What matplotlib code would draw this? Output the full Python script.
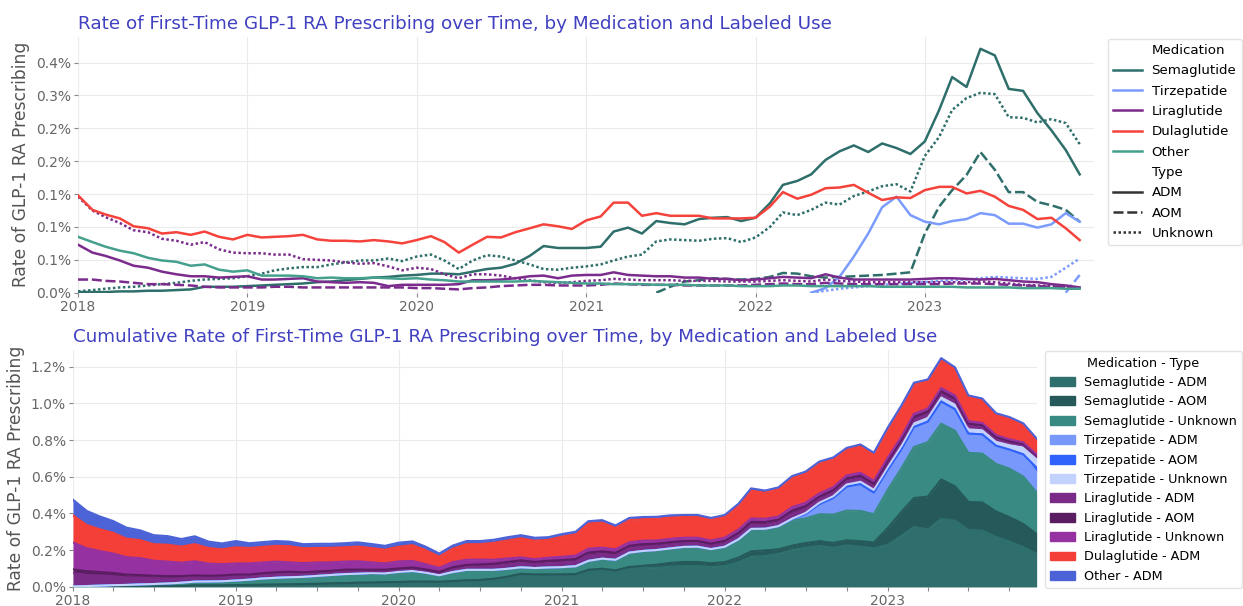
import numpy as np
import pandas as pd
import matplotlib
matplotlib.use("Agg")
import matplotlib.pyplot as plt
import matplotlib.dates as mdates
from matplotlib.lines import Line2D
from matplotlib.patches import Patch

nan = np.nan

# monthly, Jan 2018 - Dec 2023, values in percent
months = pd.date_range("2018-01-01", periods=72, freq="MS")

sema_adm = [0.001, 0.001, 0.001, 0.002, 0.002, 0.003, 0.003, 0.004, 0.005, 0.009, 0.009, 0.009,
            0.010, 0.011, 0.012, 0.013, 0.014, 0.016, 0.017, 0.019, 0.021, 0.023, 0.024, 0.026,
            0.027, 0.029, 0.029, 0.028, 0.032, 0.036, 0.038, 0.044, 0.056, 0.071, 0.068, 0.068,
            0.068, 0.070, 0.093, 0.099, 0.090, 0.109, 0.106, 0.104, 0.112, 0.114, 0.115, 0.109,
            0.114, 0.136, 0.164, 0.170, 0.180, 0.202, 0.215, 0.224, 0.214, 0.227, 0.220, 0.211,
            0.230, 0.278, 0.328, 0.313, 0.371, 0.361, 0.310, 0.307, 0.273, 0.247, 0.217, 0.180]
sema_aom = [nan] * 41 + [
            0.000, 0.009, 0.017, 0.019, 0.022, 0.021, 0.020,
            0.021, 0.024, 0.030, 0.029, 0.025, 0.023, 0.024, 0.025, 0.026, 0.027, 0.029, 0.031,
            0.090, 0.131, 0.156, 0.179, 0.214, 0.187, 0.153, 0.153, 0.138, 0.133, 0.126, 0.108]
sema_unk = [0.002, 0.004, 0.006, 0.008, 0.009, 0.011, 0.013, 0.015, 0.018, 0.020, 0.021, 0.022,
            0.025, 0.029, 0.034, 0.037, 0.039, 0.039, 0.043, 0.046, 0.049, 0.049, 0.052, 0.048,
            0.055, 0.058, 0.049, 0.036, 0.049, 0.057, 0.055, 0.049, 0.043, 0.036, 0.035, 0.038,
            0.040, 0.043, 0.049, 0.055, 0.058, 0.078, 0.081, 0.080, 0.079, 0.082, 0.083, 0.077,
            0.084, 0.100, 0.122, 0.118, 0.126, 0.137, 0.134, 0.147, 0.154, 0.162, 0.165, 0.154,
            0.208, 0.237, 0.278, 0.296, 0.304, 0.302, 0.267, 0.266, 0.259, 0.264, 0.258, 0.226]
tirz_adm = [nan] * 52 + [
            0.000, 0.007, 0.024, 0.055, 0.090, 0.130, 0.146, 0.118,
            0.108, 0.104, 0.109, 0.112, 0.121, 0.118, 0.105, 0.105, 0.099, 0.104, 0.121, 0.108]
tirz_aom = [nan] * 70 + [0.000, 0.027]
tirz_unk = [nan] * 52 + [
            0.000, 0.003, 0.006, 0.008, 0.010, 0.012, 0.013, 0.015,
            0.016, 0.018, 0.019, 0.020, 0.022, 0.024, 0.023, 0.022, 0.021, 0.024, 0.038, 0.052]
lira_adm = [0.073, 0.061, 0.056, 0.049, 0.041, 0.038, 0.032, 0.028, 0.025, 0.025, 0.023, 0.024,
            0.025, 0.020, 0.020, 0.021, 0.022, 0.017, 0.016, 0.015, 0.016, 0.015, 0.010, 0.012,
            0.012, 0.012, 0.012, 0.013, 0.019, 0.019, 0.020, 0.022, 0.025, 0.026, 0.022, 0.026,
            0.027, 0.027, 0.031, 0.027, 0.026, 0.025, 0.025, 0.023, 0.023, 0.021, 0.021, 0.019,
            0.020, 0.022, 0.024, 0.023, 0.022, 0.028, 0.023, 0.020, 0.020, 0.020, 0.020, 0.020,
            0.021, 0.022, 0.022, 0.021, 0.020, 0.021, 0.019, 0.017, 0.016, 0.013, 0.011, 0.008]
lira_aom = [0.020, 0.020, 0.018, 0.017, 0.015, 0.013, 0.013, 0.012, 0.011, 0.009, 0.008, 0.008,
            0.008, 0.008, 0.009, 0.009, 0.008, 0.008, 0.008, 0.008, 0.008, 0.008, 0.008, 0.008,
            0.007, 0.007, 0.006, 0.005, 0.007, 0.008, 0.010, 0.011, 0.012, 0.012, 0.011, 0.011,
            0.011, 0.012, 0.014, 0.013, 0.012, 0.012, 0.012, 0.011, 0.011, 0.011, 0.011, 0.011,
            0.012, 0.013, 0.014, 0.013, 0.013, 0.015, 0.014, 0.013, 0.013, 0.013, 0.013, 0.013,
            0.013, 0.013, 0.014, 0.014, 0.014, 0.013, 0.012, 0.011, 0.010, 0.009, 0.008, 0.006]
lira_unk = [0.146, 0.125, 0.115, 0.106, 0.095, 0.092, 0.082, 0.079, 0.073, 0.077, 0.066, 0.061,
            0.060, 0.060, 0.058, 0.058, 0.051, 0.050, 0.049, 0.046, 0.044, 0.045, 0.040, 0.034,
            0.038, 0.036, 0.028, 0.022, 0.028, 0.028, 0.026, 0.022, 0.019, 0.016, 0.015, 0.016,
            0.018, 0.019, 0.021, 0.020, 0.019, 0.019, 0.019, 0.018, 0.018, 0.018, 0.017, 0.017,
            0.017, 0.018, 0.019, 0.018, 0.017, 0.020, 0.018, 0.017, 0.016, 0.016, 0.016, 0.016,
            0.016, 0.016, 0.016, 0.016, 0.017, 0.016, 0.014, 0.012, 0.011, 0.010, 0.008, 0.007]
dula_adm = [0.148, 0.126, 0.119, 0.113, 0.101, 0.098, 0.090, 0.092, 0.088, 0.093, 0.085, 0.081,
            0.088, 0.084, 0.085, 0.086, 0.088, 0.081, 0.079, 0.079, 0.078, 0.080, 0.078, 0.075,
            0.080, 0.086, 0.077, 0.061, 0.073, 0.085, 0.084, 0.092, 0.098, 0.104, 0.101, 0.097,
            0.110, 0.116, 0.137, 0.137, 0.117, 0.121, 0.117, 0.117, 0.117, 0.113, 0.113, 0.113,
            0.114, 0.131, 0.153, 0.143, 0.149, 0.159, 0.160, 0.164, 0.152, 0.141, 0.145, 0.144,
            0.156, 0.161, 0.161, 0.151, 0.155, 0.146, 0.132, 0.126, 0.112, 0.114, 0.098, 0.080]
other_adm = [0.085, 0.077, 0.070, 0.064, 0.060, 0.053, 0.049, 0.047, 0.041, 0.043, 0.035, 0.032,
             0.034, 0.026, 0.026, 0.026, 0.025, 0.022, 0.023, 0.022, 0.022, 0.023, 0.022, 0.021,
             0.022, 0.020, 0.019, 0.017, 0.017, 0.017, 0.017, 0.017, 0.018, 0.017, 0.016, 0.015,
             0.014, 0.014, 0.013, 0.013, 0.013, 0.012, 0.012, 0.012, 0.011, 0.011, 0.011, 0.010,
             0.010, 0.010, 0.011, 0.011, 0.010, 0.010, 0.010, 0.010, 0.010, 0.009, 0.009, 0.009,
             0.009, 0.009, 0.009, 0.008, 0.008, 0.008, 0.008, 0.007, 0.007, 0.007, 0.006, 0.006]

medications = ["Semaglutide", "Tirzepatide", "Liraglutide", "Dulaglutide", "Other"]
types = ["ADM", "AOM", "Unknown"]
series = [
    ("Semaglutide", "ADM", sema_adm),
    ("Semaglutide", "AOM", sema_aom),
    ("Semaglutide", "Unknown", sema_unk),
    ("Tirzepatide", "ADM", tirz_adm),
    ("Tirzepatide", "AOM", tirz_aom),
    ("Tirzepatide", "Unknown", tirz_unk),
    ("Liraglutide", "ADM", lira_adm),
    ("Liraglutide", "AOM", lira_aom),
    ("Liraglutide", "Unknown", lira_unk),
    ("Dulaglutide", "ADM", dula_adm),
    ("Other", "ADM", other_adm),
]

top_yticks = [0, 0.05, 0.10, 0.15, 0.20, 0.25, 0.30, 0.35]
top_ylabels = ["0.0%", "0.1%", "0.1%", "0.1%", "0.2%", "0.2%", "0.3%", "0.4%"]
bot_yticks = [0, 0.2, 0.4, 0.6, 0.8, 1.0, 1.2]
bot_ylabels = ["0.0%", "0.2%", "0.4%", "0.6%", "0.8%", "1.0%", "1.2%"]

med_colors = {"Semaglutide": "#2f6f6b", "Tirzepatide": "#7b9cfc", "Liraglutide": "#7b2b8c",
              "Dulaglutide": "#f5433c", "Other": "#45a08d"}
type_dashes = {"ADM": (None, None), "AOM": (4, 1.5), "Unknown": (1, 1)}
stack_colors = ["#2e6f6d", "#25595a", "#388a83", "#7898fc", "#2f62fb", "#c3d1fd",
                "#7a2a87", "#5b1d62", "#9531a0", "#f43e38", "#4c63d8"]

title_color = "#4040c0"
text_gray = "#555555"

fig = plt.figure(figsize=(12.43, 6.06), dpi=100)
ax1 = fig.add_axes([0.0628, 0.517, 0.817, 0.422])
ax2 = fig.add_axes([0.0587, 0.0314, 0.7753, 0.391])


def style_axes(ax):
    for s in ax.spines.values():
        s.set_visible(False)
    ax.grid(True, color="#ebebeb", lw=0.8)
    ax.set_axisbelow(True)
    ax.tick_params(colors="#888888", labelcolor="#666666", labelsize=10, length=3, width=0.8, pad=2)
    ax.xaxis.set_major_locator(mdates.YearLocator())
    ax.xaxis.set_major_formatter(mdates.DateFormatter("%Y"))


# top: lines
style_axes(ax1)
for med, typ, vals in series:
    ln, = ax1.plot(months, vals, color=med_colors[med], lw=1.8)
    if typ != "ADM":
        ln.set_dashes(type_dashes[typ])
ax1.set_xlim(pd.Timestamp("2018-01-01"), pd.Timestamp("2023-12-31"))
ax1.set_ylim(0, 0.389)
ax1.set_yticks(top_yticks)
ax1.set_yticklabels(top_ylabels)
ax1.set_ylabel("Rate of GLP-1 RA Prescribing", fontsize=12.3, color=text_gray)
ax1.set_title("Rate of First-Time GLP-1 RA Prescribing over Time, by Medication and Labeled Use",
              loc="left", fontsize=13.2, color=title_color, pad=6)

blank = Line2D([], [], color="none")
handles = [blank] + [Line2D([], [], color=med_colors[m], lw=1.8) for m in medications] + [blank]
labels = ["Medication"] + medications + ["Type"]
for t in types:
    h = Line2D([], [], color="#333333", lw=1.8)
    if t != "ADM":
        h.set_dashes(type_dashes[t])
    handles.append(h)
    labels.append(t)
leg1 = fig.legend(handles, labels, loc="upper left", bbox_to_anchor=(0.891, 0.936),
                  fontsize=9.6, frameon=True, handlelength=2.2, borderpad=0.4,
                  labelspacing=0.55, handletextpad=0.7, borderaxespad=0, fancybox=True)
leg1.get_frame().set_edgecolor("#dddddd")

# bottom: stacked areas
style_axes(ax2)
ax2.xaxis.set_minor_locator(mdates.MonthLocator(bymonth=[1, 4, 7, 10]))
ax2.tick_params(which="minor", colors="#888888", length=3, width=0.8)
lower = np.zeros(len(months))
for (med, typ, vals), col in zip(series, stack_colors):
    upper = lower + np.nan_to_num(np.array(vals, dtype=float))
    ax2.fill_between(months, lower, upper, color=col, lw=0)
    ax2.plot(months, upper, color=col, lw=1.5)
    lower = upper
ax2.set_xlim(months[0], months[-1])
ax2.set_ylim(0, 1.29)
ax2.set_yticks(bot_yticks)
ax2.set_yticklabels(bot_ylabels)
ax2.set_ylabel("Rate of GLP-1 RA Prescribing", fontsize=12.3, color=text_gray)
ax2.set_title("Cumulative Rate of First-Time GLP-1 RA Prescribing over Time, by Medication and Labeled Use",
              loc="left", fontsize=13.2, color=title_color, pad=6)

patches = [Patch(facecolor=c, edgecolor=c) for c in stack_colors]
plabels = [f"{m} - {t}" for m, t, _ in series]
leg2 = fig.legend(patches, plabels, title="Medication - Type", loc="upper left",
                  bbox_to_anchor=(0.8405, 0.42), fontsize=9.2, title_fontsize=9.2,
                  frameon=True, handlelength=2.0, borderpad=0.4, labelspacing=0.5,
                  handletextpad=0.7, borderaxespad=0, fancybox=True)
leg2.get_frame().set_edgecolor("#dddddd")

fig.savefig("out.png", dpi=100)
